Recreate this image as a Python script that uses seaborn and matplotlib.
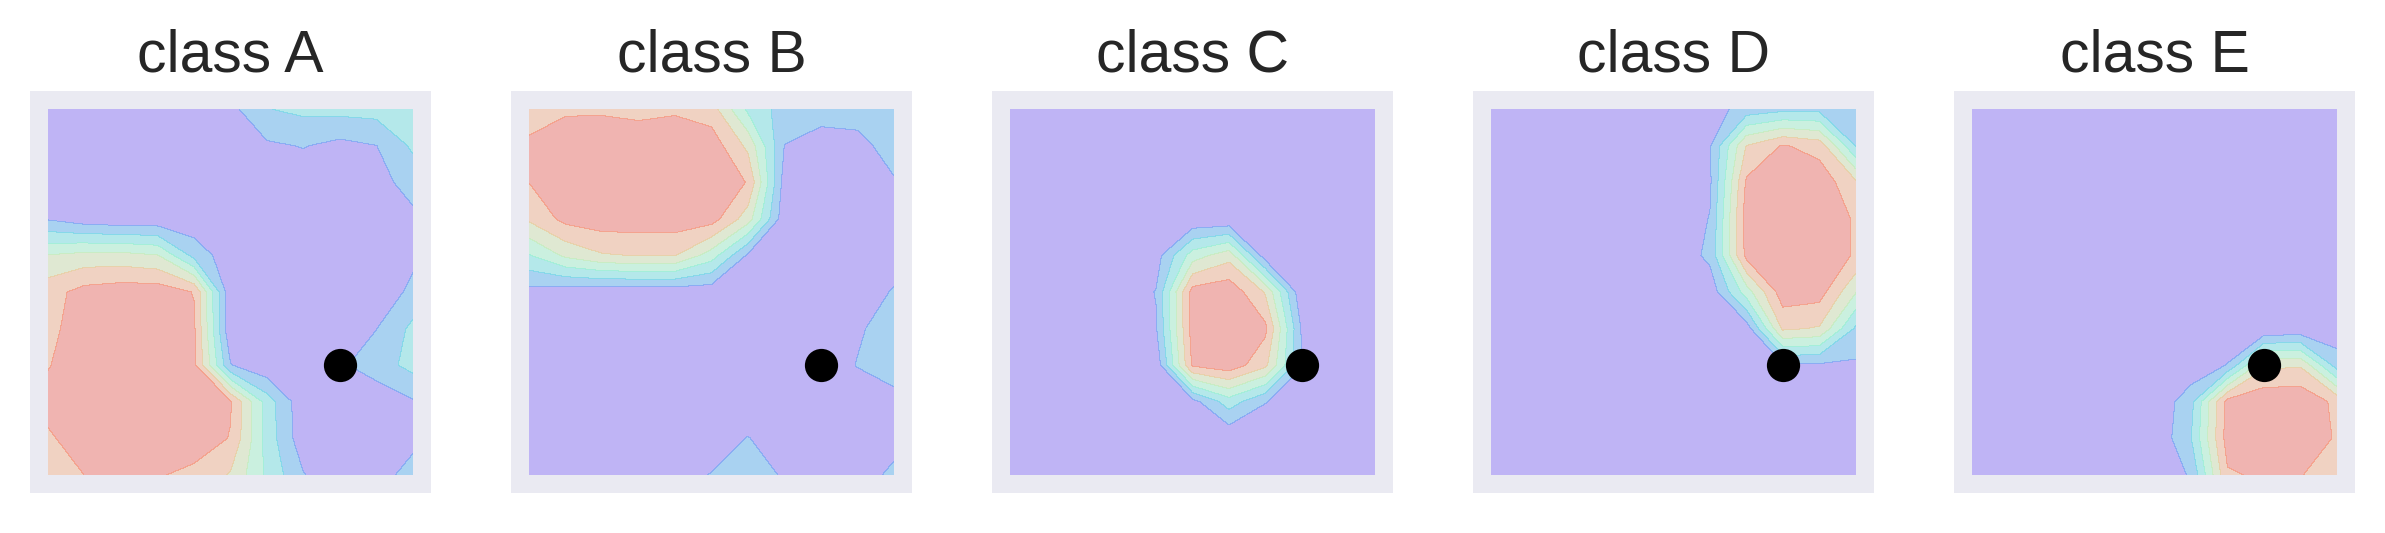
import numpy as np
import matplotlib
matplotlib.use("Agg")
import matplotlib.pyplot as plt
import seaborn as sns

# probability of each class on a 0.1 grid
# rows go from y=1.0 (top) down to y=0.0, columns from x=0.0 to x=1.0
grid_x = [0.0, 0.1, 0.2, 0.3, 0.4, 0.5, 0.6, 0.7, 0.8, 0.9, 1.0]
grid_y = [1.0, 0.9, 0.8, 0.7, 0.6, 0.5, 0.4, 0.3, 0.2, 0.1, 0.0]

class_names = ['class A', 'class B', 'class C', 'class D', 'class E']

prob_a = [
    [0.03, 0.03, 0.03, 0.04, 0.06, 0.10, 0.28, 0.32, 0.33, 0.34, 0.35],
    [0.03, 0.03, 0.03, 0.03, 0.04, 0.06, 0.12, 0.15, 0.10, 0.14, 0.31],
    [0.04, 0.03, 0.03, 0.03, 0.03, 0.04, 0.05, 0.06, 0.06, 0.09, 0.20],
    [0.13, 0.06, 0.04, 0.04, 0.04, 0.04, 0.03, 0.03, 0.04, 0.06, 0.11],
    [0.58, 0.62, 0.62, 0.58, 0.24, 0.05, 0.03, 0.03, 0.03, 0.05, 0.11],
    [0.80, 0.91, 0.94, 0.94, 0.85, 0.03, 0.02, 0.02, 0.02, 0.04, 0.18],
    [0.82, 0.93, 0.94, 0.94, 0.88, 0.02, 0.02, 0.02, 0.02, 0.14, 0.32],
    [0.85, 0.94, 0.94, 0.94, 0.89, 0.15, 0.03, 0.03, 0.12, 0.22, 0.33],
    [0.90, 0.95, 0.95, 0.95, 0.94, 0.87, 0.36, 0.04, 0.03, 0.04, 0.13],
    [0.84, 0.92, 0.95, 0.95, 0.94, 0.85, 0.37, 0.05, 0.03, 0.04, 0.10],
    [0.72, 0.86, 0.90, 0.87, 0.82, 0.70, 0.40, 0.15, 0.04, 0.08, 0.20],
]

prob_b = [
    [0.80, 0.84, 0.84, 0.82, 0.84, 0.78, 0.40, 0.22, 0.20, 0.20, 0.20],
    [0.88, 0.93, 0.94, 0.94, 0.94, 0.94, 0.68, 0.14, 0.08, 0.10, 0.20],
    [0.86, 0.94, 0.95, 0.95, 0.95, 0.95, 0.85, 0.08, 0.04, 0.04, 0.13],
    [0.74, 0.90, 0.94, 0.94, 0.94, 0.92, 0.64, 0.05, 0.03, 0.03, 0.05],
    [0.42, 0.60, 0.70, 0.72, 0.72, 0.50, 0.12, 0.04, 0.03, 0.03, 0.04],
    [0.09, 0.06, 0.05, 0.05, 0.05, 0.05, 0.03, 0.02, 0.02, 0.03, 0.16],
    [0.03, 0.03, 0.03, 0.03, 0.03, 0.03, 0.03, 0.02, 0.02, 0.12, 0.22],
    [0.02, 0.02, 0.02, 0.02, 0.02, 0.02, 0.02, 0.02, 0.03, 0.15, 0.22],
    [0.02, 0.02, 0.02, 0.02, 0.02, 0.02, 0.02, 0.02, 0.02, 0.04, 0.09],
    [0.02, 0.02, 0.02, 0.02, 0.02, 0.04, 0.15, 0.04, 0.02, 0.03, 0.08],
    [0.02, 0.02, 0.03, 0.04, 0.08, 0.15, 0.20, 0.13, 0.04, 0.06, 0.18],
]

prob_c = [
    [0.02, 0.02, 0.02, 0.02, 0.02, 0.02, 0.02, 0.02, 0.02, 0.02, 0.02],
    [0.02, 0.02, 0.02, 0.02, 0.02, 0.02, 0.02, 0.02, 0.02, 0.02, 0.02],
    [0.02, 0.02, 0.02, 0.02, 0.02, 0.02, 0.02, 0.02, 0.02, 0.02, 0.02],
    [0.02, 0.02, 0.02, 0.02, 0.02, 0.02, 0.02, 0.02, 0.02, 0.02, 0.02],
    [0.02, 0.02, 0.02, 0.02, 0.08, 0.50, 0.66, 0.06, 0.02, 0.02, 0.02],
    [0.02, 0.02, 0.02, 0.03, 0.15, 0.92, 0.96, 0.70, 0.03, 0.02, 0.02],
    [0.02, 0.02, 0.02, 0.03, 0.13, 0.92, 0.97, 0.89, 0.12, 0.02, 0.02],
    [0.02, 0.02, 0.02, 0.02, 0.04, 0.88, 0.95, 0.75, 0.15, 0.02, 0.02],
    [0.02, 0.02, 0.02, 0.02, 0.02, 0.09, 0.36, 0.15, 0.03, 0.02, 0.02],
    [0.02, 0.02, 0.02, 0.02, 0.02, 0.02, 0.02, 0.02, 0.02, 0.02, 0.02],
    [0.02, 0.02, 0.02, 0.02, 0.02, 0.02, 0.02, 0.02, 0.02, 0.02, 0.02],
]

prob_d = [
    [0.02, 0.02, 0.02, 0.02, 0.02, 0.03, 0.08, 0.20, 0.25, 0.25, 0.22],
    [0.02, 0.02, 0.02, 0.02, 0.02, 0.03, 0.13, 0.72, 0.87, 0.80, 0.28],
    [0.02, 0.02, 0.02, 0.02, 0.02, 0.03, 0.12, 0.88, 0.95, 0.95, 0.74],
    [0.02, 0.02, 0.02, 0.02, 0.02, 0.03, 0.15, 0.93, 0.96, 0.96, 0.84],
    [0.02, 0.02, 0.02, 0.02, 0.02, 0.03, 0.18, 0.90, 0.96, 0.96, 0.84],
    [0.02, 0.02, 0.02, 0.02, 0.02, 0.02, 0.05, 0.50, 0.94, 0.92, 0.58],
    [0.02, 0.02, 0.02, 0.02, 0.02, 0.02, 0.02, 0.06, 0.74, 0.70, 0.26],
    [0.02, 0.02, 0.02, 0.02, 0.02, 0.02, 0.02, 0.03, 0.12, 0.12, 0.12],
    [0.02, 0.02, 0.02, 0.02, 0.02, 0.02, 0.02, 0.02, 0.02, 0.02, 0.02],
    [0.02, 0.02, 0.02, 0.02, 0.02, 0.02, 0.02, 0.02, 0.02, 0.02, 0.02],
    [0.02, 0.02, 0.02, 0.02, 0.02, 0.02, 0.02, 0.02, 0.02, 0.02, 0.02],
]

prob_e = [
    [0.02, 0.02, 0.02, 0.02, 0.02, 0.02, 0.02, 0.02, 0.02, 0.02, 0.02],
    [0.02, 0.02, 0.02, 0.02, 0.02, 0.02, 0.02, 0.02, 0.02, 0.02, 0.02],
    [0.02, 0.02, 0.02, 0.02, 0.02, 0.02, 0.02, 0.02, 0.02, 0.02, 0.02],
    [0.02, 0.02, 0.02, 0.02, 0.02, 0.02, 0.02, 0.02, 0.02, 0.02, 0.02],
    [0.02, 0.02, 0.02, 0.02, 0.02, 0.02, 0.02, 0.02, 0.02, 0.02, 0.02],
    [0.02, 0.02, 0.02, 0.02, 0.02, 0.02, 0.02, 0.02, 0.02, 0.02, 0.02],
    [0.02, 0.02, 0.02, 0.02, 0.02, 0.02, 0.02, 0.02, 0.02, 0.03, 0.05],
    [0.02, 0.02, 0.02, 0.02, 0.02, 0.02, 0.03, 0.15, 0.68, 0.70, 0.22],
    [0.02, 0.02, 0.02, 0.02, 0.02, 0.02, 0.24, 0.91, 0.97, 0.97, 0.82],
    [0.02, 0.02, 0.02, 0.02, 0.02, 0.02, 0.28, 0.92, 0.97, 0.97, 0.84],
    [0.02, 0.02, 0.02, 0.02, 0.02, 0.02, 0.16, 0.84, 0.88, 0.87, 0.72],
]

# the query point shown as a black dot in every panel
query_x = [0.8]
query_y = [0.3]

sns.set_theme(style='darkgrid')
plt.rcParams['font.family'] = ['Liberation Sans', 'DejaVu Sans']

fig, axes = plt.subplots(1, 5, figsize=(11.925, 2.665), dpi=200)
fig.subplots_adjust(left=30 / 2385, right=2355 / 2385, bottom=40 / 533,
                    top=442 / 533, wspace=80 / 401)

levels = np.linspace(0, 1, 8)
all_probs = [prob_a, prob_b, prob_c, prob_d, prob_e]

for ax, name, prob in zip(axes, class_names, all_probs):
    ax.contourf(grid_x, grid_y, np.array(prob), levels=levels,
                cmap='rainbow', alpha=0.3)
    sns.scatterplot(x=query_x, y=query_y, color='black', s=143,
                    linewidth=0, ax=ax, zorder=3)
    ax.set_xlim(-0.05, 1.05)
    ax.set_ylim(-0.05, 1.05)
    ax.set_xticks([])
    ax.set_yticks([])
    for spine in ax.spines.values():
        spine.set_visible(False)
    ax.set_title(name, fontsize=21.2, pad=7)

fig.savefig('out.png', dpi=200)
